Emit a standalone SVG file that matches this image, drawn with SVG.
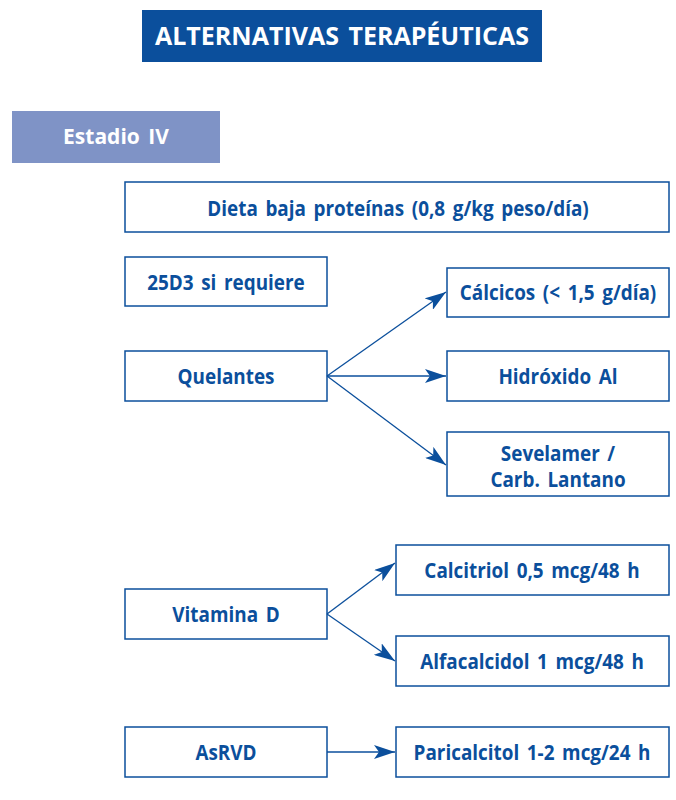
<svg xmlns="http://www.w3.org/2000/svg" width="676" height="800" viewBox="0 0 676 800">
<style>
.box{fill:#fff;stroke:#0b4f9c;stroke-width:1.5}
.t{font-family:"Open Sans","Liberation Sans",sans-serif;font-weight:bold;font-size:21px;fill:#0b4f9c;text-anchor:middle;word-spacing:3px}
.w{font-family:"Open Sans","Liberation Sans",sans-serif;font-weight:bold;fill:#fff;text-anchor:middle;word-spacing:3px}
.c{stroke:#0b4f9c;stroke-width:1.3;fill:none}
</style>
<defs>
<marker id="ah" markerWidth="22" markerHeight="14" refX="21" refY="7" orient="auto" markerUnits="userSpaceOnUse">
<path d="M0,0 L21,7 L0,14 L5,7 Z" fill="#0b4f9c"/>
</marker>
</defs>
<rect width="676" height="800" fill="#fff"/>
<g id="title">
<rect x="142" y="10" width="400" height="52" fill="#0b4f9c"/>
<text class="w" x="342" y="45" font-size="25">ALTERNATIVAS TERAPÉUTICAS</text>
</g>
<g id="estadio">
<rect x="12" y="111" width="208" height="52" fill="#7f93c6"/>
<text class="w" x="116" y="144" font-size="21">Estadio IV</text>
</g>
<g id="dieta">
<rect class="box" x="125" y="182" width="544" height="50"/>
<text class="t" transform="translate(398,216) scale(0.9,1)">Dieta baja proteínas (0,8 g/kg peso/día)</text>
</g>
<g id="d25">
<rect class="box" x="125" y="257" width="202" height="49"/>
<text class="t" transform="translate(226,290) scale(0.9,1)">25D3 si requiere</text>
</g>
<g id="quelantes">
<rect class="box" x="125" y="351" width="202" height="50"/>
<text class="t" transform="translate(226,384) scale(0.9,1)">Quelantes</text>
</g>
<g id="calcicos">
<rect class="box" x="447" y="268" width="222" height="49"/>
<text class="t" transform="translate(558,300) scale(0.9,1)">Cálcicos (&lt; 1,5 g/día)</text>
</g>
<g id="hidroxido">
<rect class="box" x="447" y="351" width="222" height="50"/>
<text class="t" transform="translate(558,384) scale(0.9,1)">Hidróxido Al</text>
</g>
<g id="sevelamer">
<rect class="box" x="447" y="432" width="222" height="64"/>
<text class="t" transform="translate(558,461) scale(0.9,1)">Sevelamer /</text>
<text class="t" transform="translate(558,487) scale(0.9,1)">Carb. Lantano</text>
</g>
<g id="vitd">
<rect class="box" x="125" y="589" width="202" height="50"/>
<text class="t" transform="translate(226,622) scale(0.9,1)">Vitamina D</text>
</g>
<g id="calcitriol">
<rect class="box" x="396" y="545" width="273" height="50"/>
<text class="t" transform="translate(532,578) scale(0.9,1)">Calcitriol 0,5 mcg/48 h</text>
</g>
<g id="alfacalcidol">
<rect class="box" x="396" y="636" width="273" height="50"/>
<text class="t" transform="translate(532,669) scale(0.9,1)">Alfacalcidol 1 mcg/48 h</text>
</g>
<g id="asrvd">
<rect class="box" x="125" y="727" width="202" height="50"/>
<text class="t" transform="translate(226,760) scale(0.9,1)">AsRVD</text>
</g>
<g id="paricalcitol">
<rect class="box" x="396" y="727" width="273" height="50"/>
<text class="t" transform="translate(532,760) scale(0.9,1)">Paricalcitol 1-2 mcg/24 h</text>
</g>
<g id="connectors">
<line class="c" x1="327" y1="376" x2="446" y2="292" marker-end="url(#ah)"/>
<line class="c" x1="327" y1="376" x2="446" y2="376" marker-end="url(#ah)"/>
<line class="c" x1="327" y1="376" x2="446" y2="465" marker-end="url(#ah)"/>
<line class="c" x1="327" y1="614" x2="395" y2="563" marker-end="url(#ah)"/>
<line class="c" x1="327" y1="614" x2="395" y2="661" marker-end="url(#ah)"/>
<line class="c" x1="327" y1="752" x2="395" y2="752" marker-end="url(#ah)"/>
</g>
</svg>
